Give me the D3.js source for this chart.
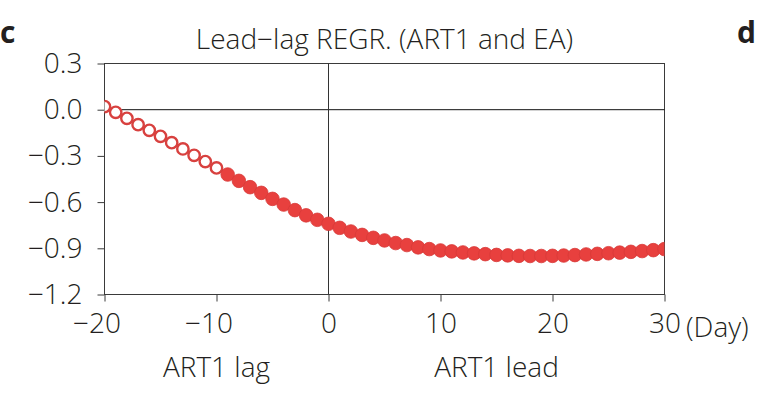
<!DOCTYPE html>
<html>
<head>
<meta charset="utf-8">
<script src="https://cdn.jsdelivr.net/npm/d3@7"></script>
<style>
  body { margin: 0; background: #fff; }
  svg text { font-family: "Open Sans", "Noto Sans", sans-serif; font-weight: 300; fill: #231f20; }
  .axis text { font-size: 28px; }
  .axis path, .axis line { stroke: #3a3a3a; }
</style>
</head>
<body>
<script>
// lead-lag days and regression values
var days = [-20,-19,-18,-17,-16,-15,-14,-13,-12,-11,-10,-9,-8,-7,-6,-5,-4,-3,-2,-1,
            0,1,2,3,4,5,6,7,8,9,10,11,12,13,14,15,16,17,18,19,20,
            21,22,23,24,25,26,27,28,29,30];
var regr = [0.02,-0.017,-0.056,-0.097,-0.134,-0.173,-0.214,-0.255,-0.296,-0.337,-0.378,
            -0.421,-0.462,-0.503,-0.540,-0.579,-0.616,-0.652,-0.686,-0.715,
            -0.741,-0.767,-0.791,-0.813,-0.832,-0.849,-0.866,-0.879,-0.894,-0.905,-0.914,
            -0.920,-0.927,-0.933,-0.938,-0.943,-0.946,-0.949,-0.950,-0.950,-0.949,
            -0.947,-0.944,-0.940,-0.936,-0.932,-0.928,-0.923,-0.918,-0.912,-0.905];
// 1 = significant (filled), 0 = not significant (open)
var signif = [0,0,0,0,0,0,0,0,0,0,0,1,1,1,1,1,1,1,1,1,
              1,1,1,1,1,1,1,1,1,1,1,1,1,1,1,1,1,1,1,1,1,
              1,1,1,1,1,1,1,1,1,1];
var xTicks = [-20,-10,0,10,20,30];
var yTicks = [0.3,0.0,-0.3,-0.6,-0.9,-1.2];

var width = 771, height = 397;
var pLeft = 104.5, pRight = 664.5, pTop = 63.5, pBottom = 294.5;

var svg = d3.select("body").append("svg")
    .attr("width", width)
    .attr("height", height);

var x = d3.scaleLinear().domain([-20, 30]).range([pLeft, pRight]);
var y = d3.scaleLinear().domain([-1.2, 0.3]).range([pBottom, pTop]);

// frame
svg.append("rect")
    .attr("x", pLeft).attr("y", pTop)
    .attr("width", pRight - pLeft).attr("height", pBottom - pTop)
    .attr("fill", "none").attr("stroke", "#3a3a3a");

// zero lines
svg.append("line")
    .attr("x1", pLeft).attr("x2", pRight)
    .attr("y1", y(0)).attr("y2", y(0))
    .attr("stroke", "#111");
svg.append("line")
    .attr("x1", x(0)).attr("x2", x(0))
    .attr("y1", pTop).attr("y2", pBottom)
    .attr("stroke", "#333");

// axes
svg.append("g")
    .attr("class", "axis")
    .attr("transform", "translate(" + pLeft + ",0)")
    .call(d3.axisLeft(y).tickValues(yTicks).tickSize(7).tickPadding(15)
        .tickFormat(d3.format(".1f")))
    .call(function(g) { g.select(".domain").remove(); });

var xAxis = svg.append("g")
    .attr("class", "axis")
    .attr("transform", "translate(0," + pBottom + ")")
    .call(d3.axisBottom(x).tickValues(xTicks).tickSize(7).tickPadding(12)
        .tickFormat(d3.format("d")))
    .call(function(g) { g.select(".domain").remove(); });

svg.selectAll(".axis text").attr("font-family", null).attr("font-size", null);

// minus sign hangs to the left: centre digits on the tick
var probe = svg.append("text").attr("class", "axis").style("font-size", "28px").text("\u2212");
var minusW = probe.node().getComputedTextLength();
probe.remove();
xAxis.selectAll(".tick text")
    .attr("dx", function(d) { return d < 0 ? -minusW / 2 : 0; });

// points
svg.append("clipPath").attr("id", "plotclip")
  .append("rect")
    .attr("x", pLeft).attr("y", pTop)
    .attr("width", pRight - pLeft).attr("height", pBottom - pTop);

var pts = days.map(function(d, i) { return {day: d, val: regr[i], sig: signif[i]}; });

svg.append("g")
    .attr("clip-path", "url(#plotclip)")
  .selectAll("circle")
    .data(pts)
  .enter().append("circle")
    .attr("cx", function(d) { return x(d.day); })
    .attr("cy", function(d) { return y(d.val); })
    .attr("r", function(d) { return d.sig ? 6.8 : 5.7; })
    .attr("fill", function(d) { return d.sig ? "#e8403e" : "#fff"; })
    .attr("stroke", function(d) { return d.sig ? "#d83a38" : "#d8413f"; })
    .attr("stroke-width", function(d) { return d.sig ? 0.8 : 2.4; });

// texts
svg.append("text")
    .attr("x", (pLeft + pRight) / 2).attr("y", 49)
    .attr("text-anchor", "middle")
    .style("font-size", "28px")
    .text("Lead\u2212lag REGR. (ART1 and EA)");

svg.append("text")
    .attr("x", 686).attr("y", 337)
    .style("font-size", "28px")
    .text("(Day)");

svg.append("text")
    .attr("x", x(-10)).attr("y", 377)
    .attr("text-anchor", "middle")
    .style("font-size", "28px")
    .text("ART1 lag");

svg.append("text")
    .attr("x", x(15)).attr("y", 377)
    .attr("text-anchor", "middle")
    .style("font-size", "28px")
    .text("ART1 lead");

svg.append("text")
    .attr("x", 0).attr("y", 43)
    .style("font-size", "30px").style("font-weight", "700")
    .text("c");

svg.append("text")
    .attr("x", 737).attr("y", 43)
    .style("font-size", "30px").style("font-weight", "700")
    .text("d");
</script>
</body>
</html>
